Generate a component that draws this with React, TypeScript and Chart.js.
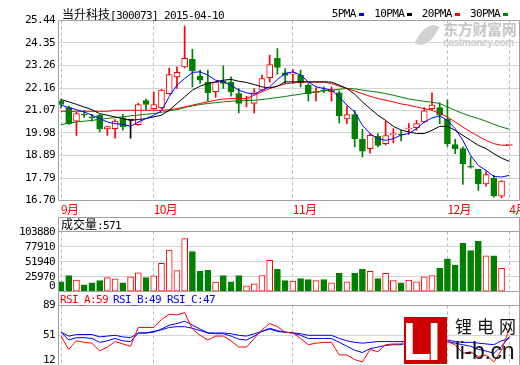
import React, { useEffect, useRef } from 'react';
import { Chart, registerables } from 'chart.js';

Chart.register(...registerables);

// ---------------- data ----------------
const monthTicks = [0, 12, 30, 50, 58];
const monthLabels = ['9月', '10月', '11月', '12月', '4月'];
const priceTicks = [16.7, 17.79, 18.89, 19.98, 21.07, 22.16, 23.26, 24.35, 25.44];
const volumeTicks = [0, 25970, 51940, 77910, 103880];
const rsiTicks = [12, 51, 89];

const opens = [21.52, 21.21, 20.55, 20.87, 20.74, 20.84, 20.17, 20.19, 20.71, 20.6,
  20.38, 21.55, 21.16, 21.21, 21.89, 22.7, 23.19, 23.55, 22.74, 22.45,
  21.99, 22.49, 22.45, 21.89, 21.62, 21.41, 22.06, 22.67, 23.6, 22.9,
  22.84, 22.79, 22.3, 21.93, 22.06, 21.99, 21.93, 20.66, 20.87, 19.67,
  19.22, 19.82, 19.46, 19.9, 19.93, 20.17, 20.24, 20.51, 21.16, 21.21,
  20.64, 19.41, 19.22, 18.35, 18.21, 17.51, 17.79, 16.91, 19.38];
const highs = [21.62, 21.28, 20.98, 21.08, 20.89, 20.89, 20.29, 20.63, 20.89, 20.6,
  21.42, 21.63, 21.97, 22.1, 23.13, 23.19, 25.17, 24.04, 23.03, 23.03,
  22.45, 23.24, 22.7, 22.14, 21.76, 22.14, 22.79, 23.76, 24.08, 23.11,
  23.06, 23.03, 22.38, 22.17, 22.22, 22.22, 22.02, 21.28, 21.08, 20.16,
  19.95, 19.95, 20.56, 20.19, 20.11, 20.43, 20.59, 21.21, 21.93, 21.44,
  21.57, 19.67, 19.3, 18.81, 18.21, 18.11, 17.92, 17.67, 19.4];
const lows = [21.18, 20.4, 19.86, 20.73, 20.55, 20.03, 19.86, 19.73, 20.11, 19.73,
  20.35, 21.11, 21.14, 21.16, 21.86, 22.14, 23.14, 22.22, 22.38, 21.52,
  21.7, 22.14, 21.76, 20.95, 21.24, 20.95, 22.02, 22.45, 22.83, 22.38,
  22.38, 22.22, 21.54, 21.54, 21.93, 21.52, 20.47, 20.43, 19.3, 18.81,
  19.0, 19.3, 19.4, 19.49, 19.59, 19.91, 20.11, 20.47, 21.11, 20.43,
  19.33, 18.97, 17.48, 18.27, 17.19, 17.4, 16.86, 16.83, 19.38];
const closes = [21.36, 20.43, 20.92, 20.84, 20.71, 20.17, 20.29, 20.56, 20.27, 20.6,
  21.36, 21.36, 21.36, 22.06, 22.82, 22.92, 23.6, 23.0, 22.54, 21.93,
  22.45, 22.38, 21.97, 21.41, 21.66, 21.93, 22.62, 23.3, 23.16, 22.77,
  22.88, 22.41, 21.89, 22.01, 22.02, 22.07, 20.81, 20.87, 19.7, 19.1,
  19.86, 19.38, 19.85, 19.94, 19.88, 20.22, 20.43, 21.05, 21.33, 20.84,
  19.46, 19.22, 18.49, 18.32, 17.51, 17.96, 16.94, 17.64, 19.4];

const ma5 = [21.33, 21.21, 21.11, 21.0, 20.84, 20.68, 20.51, 20.43, 20.4, 20.3,
  20.51, 20.68, 20.84, 21.05, 21.75, 22.3, 22.62, 22.92, 22.95, 22.79,
  22.54, 22.46, 22.3, 22.06, 21.93, 21.86, 22.06, 22.22, 22.58, 22.87,
  22.95, 22.79, 22.46, 22.22, 22.14, 22.06, 21.73, 21.33, 21.0, 20.35,
  19.95, 19.7, 19.62, 19.7, 19.88, 19.95, 20.19, 20.51, 20.71, 20.81,
  20.59, 20.19, 19.62, 18.89, 18.4, 18.16, 17.87, 17.84, 17.92];
const ma10 = [21.6, 21.49, 21.37, 21.24, 21.11, 20.92, 20.84, 20.76, 20.68, 20.59,
  20.63, 20.68, 20.76, 20.84, 21.08, 21.41, 21.73, 22.06, 22.25, 22.38,
  22.46, 22.54, 22.58, 22.49, 22.43, 22.33, 22.22, 22.17, 22.25, 22.46,
  22.46, 22.46, 22.46, 22.46, 22.46, 22.45, 22.3, 22.14, 21.86, 21.49,
  21.16, 20.84, 20.59, 20.3, 20.12, 20.03, 19.95, 19.95, 20.11, 20.3,
  20.3, 20.11, 19.86, 19.62, 19.38, 19.22, 18.97, 18.76, 18.6];
const ma20 = [21.03, 21.03, 21.03, 21.03, 21.03, 21.03, 21.03, 21.08, 21.08, 21.08,
  21.08, 21.08, 21.08, 21.08, 21.11, 21.16, 21.24, 21.33, 21.41, 21.49,
  21.57, 21.62, 21.65, 21.65, 21.65, 21.81, 21.97, 22.14, 22.25, 22.36,
  22.41, 22.45, 22.45, 22.45, 22.45, 22.38, 22.25, 22.14, 22.02, 21.89,
  21.76, 21.65, 21.57, 21.49, 21.39, 21.33, 21.24, 21.16, 21.08, 20.92,
  20.76, 20.51, 20.27, 20.03, 19.82, 19.62, 19.46, 19.38, 19.38];
const ma30 = [20.38, 20.46, 20.51, 20.55, 20.59, 20.64, 20.69, 20.72, 20.76, 20.81,
  20.85, 20.89, 20.92, 20.98, 21.05, 21.11, 21.21, 21.29, 21.36, 21.41,
  21.45, 21.49, 21.52, 21.54, 21.55, 21.57, 21.6, 21.65, 21.7, 21.75,
  21.81, 21.86, 21.93, 21.97, 22.02, 22.06, 22.1, 22.14, 22.12, 22.06,
  22.01, 21.96, 21.89, 21.81, 21.72, 21.63, 21.57, 21.52, 21.47, 21.41,
  21.24, 21.08, 20.92, 20.79, 20.68, 20.55, 20.4, 20.27, 20.16];

const volumes = [17300, 28000, 20300, 11900, 15500, 19100, 24500, 22100, 15500, 25700,
  32800, 24500, 27500, 49000, 72200, 36400, 91900, 69300, 35200, 37000,
  16700, 28000, 17300, 28000, 10100, 13700, 28000, 54300, 38800, 19100,
  18500, 22700, 20900, 19100, 20900, 15500, 31600, 17300, 31600, 38800,
  35200, 22700, 31600, 19100, 15500, 20300, 17300, 25700, 28000, 40600,
  56700, 46000, 83600, 71000, 87200, 62100, 62100, 40600, 571];

const rsiA = [50, 33, 44, 42, 41, 31, 36, 43, 40, 37, 61, 61, 61, 71, 78, 77, 80, 59, 51, 45,
  50, 50, 44, 36, 36, 47, 58, 66, 62, 55, 54, 47, 39, 41, 42, 42, 26, 26, 20, 17,
  33, 30, 39, 40, 40, 49, 54, 62, 60, 54, 43, 39, 28, 30, 24, 26, 17, 32, 59];
const rsiB = [55, 45, 48, 48, 47, 42, 44, 47, 44, 43, 54, 54, 55, 59, 64, 66, 69, 64, 59, 54,
  53, 53, 50, 46, 45, 50, 56, 60, 57, 55, 54, 51, 47, 47, 47, 47, 42, 37, 32, 29,
  34, 36, 38, 39, 39, 42, 44, 48, 49, 48, 43, 41, 39, 37, 33, 31, 28, 37, 49];
const rsiC = [55, 50, 52, 52, 52, 49, 50, 51, 49, 48, 54, 54, 56, 58, 61, 62, 62, 60, 57, 54,
  54, 54, 53, 51, 50, 53, 56, 59, 56, 55, 54, 53, 51, 51, 51, 51, 47, 44, 42, 41,
  42, 43, 43, 43, 43, 44, 46, 47, 48, 47, 45, 43, 42, 42, 41, 40, 39, 44, 47];

// ---------------- styles ----------------
const FRAME = '#A0A0A0';
const GRID = '#D4D4D4';
const VGRID = '#B8B8B8';
const RED = '#FF0000';
const GREEN = '#008000';
const BLUE = '#0000FF';
const BLACK = '#000000';
const MONO = "'DejaVu Sans Mono', monospace";
const CJK = "'Noto Sans CJK SC', sans-serif";

const idx = closes.map((_, i) => i);
const candleColor = (i: number) => (closes[i] > opens[i] ? RED : closes[i] < opens[i] ? GREEN : BLACK);
const bodyFill = (i: number) => (closes[i] > opens[i] ? '#FFFFFF' : candleColor(i));
const volUp = (i: number) => closes[i] >= opens[i];

const spacingPlugin = {
  id: 'letterSpacing',
  beforeDraw(chart: any) { chart.ctx.letterSpacing = '-0.62px'; },
  afterDraw(chart: any) { chart.ctx.letterSpacing = '0px'; },
};

const makeFrame = (kind: string) => ({
  id: 'frame_' + kind,
  afterDraw(chart: any) {
    const { ctx, chartArea: a, height } = chart;
    const L = 58.5;
    const R = 519.5;
    const T = Math.floor(a.top) + 0.5;
    const B = Math.floor(a.bottom) + 0.5;
    ctx.save();
    ctx.strokeStyle = FRAME;
    ctx.lineWidth = 1;
    ctx.beginPath();
    if (kind === 'price') {
      ctx.rect(L, T, R - L, B - T);
    } else if (kind === 'vol') {
      ctx.moveTo(L, B); ctx.lineTo(L, 0.5); ctx.lineTo(R, 0.5); ctx.lineTo(R, B); ctx.lineTo(L, B);
      ctx.moveTo(L, T); ctx.lineTo(R, T);
    } else {
      ctx.moveTo(L, 0); ctx.lineTo(L, height);
      ctx.moveTo(R, 0); ctx.lineTo(R, height);
      ctx.moveTo(L, T); ctx.lineTo(R, T);
    }
    ctx.stroke();
    ctx.restore();
  },
});

const zeroPad = (s: any) => {
  s.paddingTop = 0;
  s.paddingBottom = 0;
  s.paddingLeft = 0;
  s.paddingRight = 0;
};

const xScale = (showLabels: boolean, h: number) => ({
  type: 'linear',
  min: -0.26,
  max: 59.26,
  offset: false,
  bounds: 'data',
  afterBuildTicks: (s: any) => { s.ticks = monthTicks.map((v) => ({ value: v })); },
  afterFit: (s: any) => { s.height = h; zeroPad(s); },
  grid: { display: true, offset: false, drawTicks: false, color: VGRID, lineWidth: 1 },
  border: { display: false, dash: [3, 3] },
  ticks: {
    display: showLabels,
    autoSkip: false,
    maxRotation: 0,
    minRotation: 0,
    align: 'start',
    padding: 2,
    color: RED,
    font: { family: CJK, size: 12 },
    callback: (v: number) => monthLabels[monthTicks.indexOf(v)] ?? '',
  },
});

const yScale = (min: number, max: number, vals: number[], fmt: (v: number) => any, gridColor: any) => ({
  type: 'linear',
  min,
  max,
  beginAtZero: false,
  bounds: 'data',
  afterBuildTicks: (s: any) => { s.ticks = vals.map((v) => ({ value: v })); },
  afterFit: (s: any) => { s.width = 59; zeroPad(s); },
  grid: { drawTicks: false, color: gridColor, lineWidth: 1 },
  border: { display: false },
  ticks: { autoSkip: false, padding: 4, color: BLACK, font: { family: MONO, size: 11, lineHeight: 1.1 }, callback: fmt },
});

const common = {
  responsive: false,
  maintainAspectRatio: false,
  animation: false,
  devicePixelRatio: 1,
  events: [],
  plugins: { legend: { display: false }, tooltip: { enabled: false } },
};

const line = (vals: number[], color: string, order = 0) => ({
  type: 'line',
  data: vals.map((v, i) => ({ x: i, y: v })),
  borderColor: color,
  borderWidth: 1,
  pointRadius: 0,
  tension: 0,
  order,
});

const abs = (left: number, top: number, extra: any = {}) => ({
  position: 'absolute' as const, left, top, whiteSpace: 'nowrap' as const, ...extra,
});

export default function App() {
  const priceRef = useRef<HTMLCanvasElement>(null);
  const volRef = useRef<HTMLCanvasElement>(null);
  const rsiRef = useRef<HTMLCanvasElement>(null);

  useEffect(() => {
    const charts: Chart[] = [];
    charts.push(new Chart(priceRef.current as any, {
      type: 'bar',
      data: {
        datasets: [
          line(ma5, BLUE),
          line(ma10, BLACK),
          line(ma20, RED),
          line(ma30, GREEN),
          {
            type: 'bar',
            data: idx.map((i) => ({ x: i, y: [Math.min(opens[i], closes[i]), Math.max(opens[i], closes[i])] })),
            backgroundColor: idx.map(bodyFill),
            borderColor: idx.map(candleColor),
            borderWidth: 1,
            borderSkipped: false,
            barThickness: 6,
            minBarLength: 1,
            grouped: false,
            order: 1,
          },
          {
            type: 'bar',
            data: idx.map((i) => ({ x: i, y: [lows[i], highs[i]] })),
            backgroundColor: idx.map(candleColor),
            borderWidth: 0,
            barThickness: 1,
            minBarLength: 1,
            grouped: false,
            order: 2,
          },
        ] as any,
      },
      options: {
        ...common,
        layout: { padding: { top: 20.5, right: 1, bottom: 0, left: 0 } },
        scales: {
          x: xScale(true, 16.5),
          y: yScale(16.7, 25.44, priceTicks, (v) => Number(v).toFixed(2), GRID),
        },
      } as any,
      plugins: [spacingPlugin, makeFrame('price')],
    }));

    charts.push(new Chart(volRef.current as any, {
      type: 'bar',
      data: {
        datasets: [
          {
            data: idx.map((i) => ({ x: i, y: volumes[i] })),
            backgroundColor: idx.map((i) => (volUp(i) ? '#FFFFFF' : GREEN)),
            borderColor: idx.map((i) => (volUp(i) ? RED : GREEN)),
            borderWidth: 1,
            borderSkipped: false,
            barThickness: 6,
            grouped: false,
          },
        ] as any,
      },
      options: {
        ...common,
        layout: { padding: { top: 14.7, right: 1, bottom: 0.3, left: 0 } },
        scales: {
          x: xScale(false, 0),
          y: yScale(0, 103880, volumeTicks, (v) => (v === 0 ? ['0', ''] : String(v)), GRID),
        },
      } as any,
      plugins: [spacingPlugin, makeFrame('vol')],
    }));

    charts.push(new Chart(rsiRef.current as any, {
      type: 'line',
      data: {
        datasets: [line(rsiA, RED, 0), line(rsiB, BLUE, 1), line(rsiC, BLUE, 2)] as any,
      },
      options: {
        ...common,
        layout: { padding: { top: 13.5, right: 1, bottom: 0.1, left: 0 } },
        scales: {
          x: xScale(false, 0),
          y: yScale(12, 89, rsiTicks, (v) => (v === 12 ? ['12', ''] : String(v)),
            (ctx: any) => (ctx.tick && ctx.tick.value === 51 ? GRID : 'rgba(0,0,0,0)')),
        },
      } as any,
      plugins: [spacingPlugin, makeFrame('rsi')],
    }));

    return () => charts.forEach((c) => c.destroy());
  }, []);

  const mono = { fontFamily: MONO, fontSize: 11, letterSpacing: '-0.62px' };
  const cjk = { fontFamily: CJK, fontSize: 12 };
  const legendItem = (label: string, x: number, mx: number, color: string) => (
    <React.Fragment key={label}>
      <div style={abs(x, 7, { ...mono, lineHeight: '14px', height: 14, color: BLACK })}>{label}</div>
      <div style={abs(mx, 12.5, { width: 5, height: 3, background: color })} />
    </React.Fragment>
  );

  return (
    <div style={{ position: 'fixed', left: 0, top: 0, width: 520, height: 365, overflow: 'hidden', background: '#FFFFFF' }}>
      {/* watermark */}
      <div style={abs(420, 23, { width: 14, height: 24, background: '#D2D2D2', borderRadius: '70% 0 70% 0', transform: 'rotate(20deg) skewX(-10deg)' })} />
      <div style={abs(443, 20, { fontFamily: CJK, fontSize: 15, fontWeight: 700, color: '#C8C8C8', lineHeight: '18px', letterSpacing: '-0.3px' })}>东方财富网</div>
      <div style={abs(443, 38, { fontFamily: "'Liberation Sans', sans-serif", fontSize: 10, fontWeight: 700, color: '#CCCCCC', lineHeight: '10px', letterSpacing: '-0.3px' })}>eastmoney.com</div>

      <canvas ref={priceRef} width={520} height={217} style={abs(0, 0, { width: 520, height: 217 })} />
      <canvas ref={volRef} width={520} height={75} style={abs(0, 217, { width: 520, height: 75 })} />
      <canvas ref={rsiRef} width={520} height={74} style={abs(0, 292, { width: 520, height: 74 })} />

      {/* title */}
      <div style={abs(62, 6, { height: 15, lineHeight: '15px', color: BLACK })}>
        <span style={cjk}>当升科技</span><span style={mono}>[300073] 2015-04-10</span>
      </div>
      {legendItem('5PMA', 331.7, 358.7, BLUE)}
      {legendItem('10PMA', 374.3, 406.7, BLACK)}
      {legendItem('20PMA', 421.7, 455, RED)}
      {legendItem('30PMA', 470, 503.3, GREEN)}

      {/* volume label */}
      <div style={abs(61, 217, { height: 14, lineHeight: '14px', color: BLACK })}>
        <span style={cjk}>成交量</span><span style={mono}>:571</span>
      </div>

      {/* RSI labels */}
      <div style={abs(60, 293, { ...mono, height: 14, lineHeight: '14px', color: RED })}>RSI_A:59</div>
      <div style={abs(113, 293, { ...mono, height: 14, lineHeight: '14px', color: BLUE })}>RSI_B:49</div>
      <div style={abs(167, 293, { ...mono, height: 14, lineHeight: '14px', color: BLUE })}>RSI_C:47</div>

      {/* li-b.cn logo */}
      <div style={abs(404, 317, { width: 43, height: 47, background: '#CC0000', overflow: 'hidden' })}>
        <div style={abs(-1, 1, { fontFamily: "'Liberation Sans', sans-serif", fontWeight: 700, fontSize: 54, lineHeight: '46px', color: '#FFFFFF', letterSpacing: '-4px', transform: 'scaleX(0.85)', transformOrigin: 'left top' })}>LI</div>
      </div>
      <div style={abs(455, 316, { fontFamily: CJK, fontSize: 17, lineHeight: '20px', color: '#111111', letterSpacing: '5px' })}>锂电网</div>
      <div style={abs(455, 338, { fontFamily: "'Liberation Sans', sans-serif", fontSize: 23, lineHeight: '26px', color: '#111111', letterSpacing: '-0.3px' })}>li-b.cn</div>
    </div>
  );
}
